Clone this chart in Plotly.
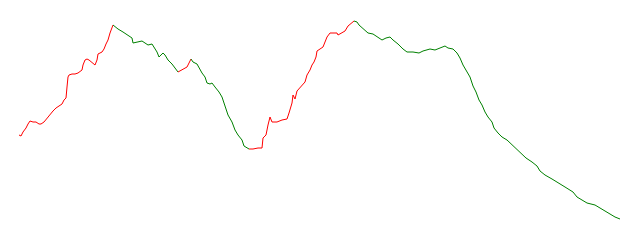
import plotly.graph_objects as go

# x positions (time index) and values
days = [19, 21, 23, 26, 28, 30, 33, 36, 39, 41, 44, 47, 50, 53, 56, 59, 62, 64, 66, 67, 68, 69, 72, 75, 78,
        82, 83, 85, 87, 89, 92, 95, 97, 98, 102, 104, 106, 108, 110, 112, 113,
        118, 123, 128, 132, 133, 137, 142, 145, 148, 152, 154, 157, 159, 163, 165, 168, 172, 175, 178,
        180, 183, 187, 189, 191,
        193, 197, 199, 202, 205, 207, 210, 212, 215, 219, 222, 225, 228, 232, 235, 238, 242, 244, 247, 249,
        250, 253, 258, 262, 263, 266, 268, 270, 272, 277, 282, 287, 289, 292, 293, 295, 297, 299, 302, 305,
        307, 310, 312, 314, 316, 317, 320, 323, 325, 327, 330, 333, 337, 338, 342, 345, 348, 352, 354,
        357, 359, 362, 365, 368, 373, 377, 382, 386, 390, 393, 398, 403, 407, 413, 419, 423, 430, 435,
        440, 445, 448, 453, 457, 460, 463, 467, 470, 473, 476, 479, 482, 485, 488, 492, 494, 498, 502,
        507, 510, 515, 518, 522, 526, 532, 537, 540, 545, 552, 558, 565, 573, 577, 582, 587, 595, 600,
        605, 610, 615, 620]

values = [105, 104, 108, 112, 116, 119, 118, 118, 116, 116, 118, 122, 126, 129, 132, 134, 136, 140, 142, 153, 163, 165, 166, 166, 167,
          170, 175, 180, 181, 180, 177, 175, 180, 186, 188, 191, 196, 200, 207, 212, 215,
          211, 208, 205, 202, 197, 198, 199, 197, 195, 196, 193, 188, 183, 187, 185, 180, 176, 172, 168,
          169, 171, 173, 177, 181,
          178, 176, 172, 167, 163, 157, 156, 157, 153, 148, 143, 133, 125, 118, 110, 105, 100, 94, 92, 91,
          91, 91, 92, 92, 102, 105, 115, 123, 118, 118, 120, 121, 127, 137, 145, 141, 149, 151, 154, 158,
          165, 170, 175, 178, 183, 189, 191, 193, 198, 203, 207, 207, 207, 205, 207, 209, 214, 217, 219,
          218, 215, 212, 209, 207, 206, 203, 200, 202, 203, 200, 196, 191, 188, 188, 187, 189, 191, 190,
          192, 194, 192, 191, 187, 182, 175, 168, 163, 154, 148, 140, 135, 128, 123, 118, 112, 107, 103,
          100, 97, 93, 89, 86, 82, 78, 74, 69, 65, 61, 57, 53, 48, 43, 40, 37, 35, 32,
          29, 26, 23, 21]

# turning points (day values) where the trend changes direction
turning_days = [19, 113, 178, 191, 249, 354, 620]
trend_colors = ["#ff0000", "#008000", "#ff0000", "#008000", "#ff0000", "#008000"]

fig = go.Figure()
for i, color in enumerate(trend_colors):
    a, b = turning_days[i], turning_days[i + 1]
    sx = [d for d in days if a <= d <= b]
    sy = [v for d, v in zip(days, values) if a <= d <= b]
    fig.add_trace(go.Scatter(x=sx, y=sy, mode="lines",
                             line=dict(color=color, width=1),
                             hoverinfo="skip", showlegend=False))

fig.update_layout(
    width=640, height=240,
    margin=dict(l=0, r=0, t=0, b=0),
    paper_bgcolor="white", plot_bgcolor="white",
    xaxis=dict(range=[0, 640], visible=False, fixedrange=True),
    yaxis=dict(range=[0, 240], visible=False, fixedrange=True),
)

fig.write_html("out.html", config={"displayModeBar": False})
